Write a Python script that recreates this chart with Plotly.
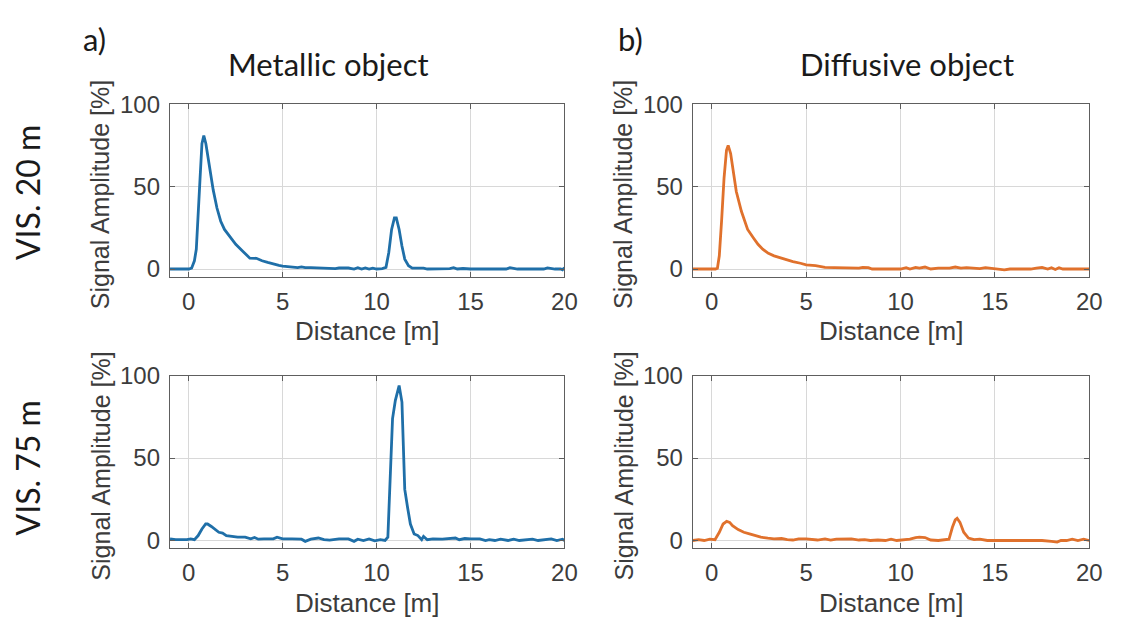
import plotly.graph_objects as go

# ---------------- data ----------------
# Metallic object, VIS. 20 m
met20_x = [-1, -0.5, 0, 0.15, 0.3, 0.4, 0.5, 0.6, 0.7, 0.8,
           0.91, 1.0, 1.17, 1.3, 1.5, 1.7, 1.9, 2.2, 2.5, 2.9,
           3.1, 3.25, 3.6, 3.9, 4.2, 4.5, 4.8, 5.0, 5.3, 5.6,
           5.8, 6.0, 6.2, 6.5, 7.0, 7.5, 7.8, 8.0, 8.5, 8.8,
           9.0, 9.2, 9.4, 9.6, 9.8, 10.0, 10.3, 10.5, 10.65, 10.8,
           10.95, 11.05, 11.2, 11.35, 11.5, 11.7, 11.9, 12.2, 12.5, 12.7,
           13.0, 13.5, 13.9, 14.1, 14.3, 14.6, 15.0, 16.0, 16.9, 17.1,
           17.5, 18.0, 18.5, 18.9, 19.1, 19.5, 19.8, 19.9, 20]
met20_y = [0, 0, 0, 0.5, 5, 12, 30, 55, 76, 81,
           76, 69, 58, 48, 37, 29, 24, 19.5, 15, 10.5,
           8.5, 6.6, 6.5, 5, 4, 3, 2.2, 1.8, 1.3, 1.2,
           0.8, 1.3, 0.8, 0.8, 0.5, 0.5, 0.2, 0.6, 0.6, 0,
           0.8, 0, 0.7, 0, 0.5, 0, 0.3, 1, 10, 24,
           31, 31, 24, 14, 6, 2, 0.5, 0.5, 0.5, 0,
           0, 0, 0.2, 0.8, 0, 0.3, 0, 0, 0, 0.8,
           0, 0, 0, 0, 0.7, 0, 0, -0.5, 0.8]

# Metallic object, VIS. 75 m
met75_x = [-1, -0.7, -0.4, -0.1, 0.1, 0.3, 0.5, 0.7, 0.9, 1.0,
           1.2, 1.4, 1.6, 1.8, 2.0, 2.3, 2.6, 3.0, 3.3, 3.5,
           3.7, 4.0, 4.5, 4.7, 5.0, 5.5, 6.0, 6.2, 6.5, 6.9,
           7.2, 7.5, 8.0, 8.5, 8.8, 9.0, 9.3, 9.6, 9.9, 10.2,
           10.45, 10.6, 10.75, 10.85, 11.0, 11.2, 11.35, 11.45, 11.5, 11.65,
           11.8, 12.0, 12.2, 12.4, 12.5, 12.7, 13.0, 13.5, 14.0, 14.2,
           14.4, 14.7, 15.0, 15.5, 15.8, 16.0, 16.3, 16.6, 17.0, 17.3,
           17.6, 18.0, 18.3, 18.6, 19.0, 19.3, 19.6, 19.9, 20]
met75_y = [1, 0.5, 0.5, 0.5, 1, 0.5, 3, 7, 10, 10,
           8.5, 6.5, 5, 4.5, 3, 2.5, 2, 2, 1, 1.8,
           0.8, 1, 1, 2, 1, 1, 0.8, -0.5, 0.8, 1.5,
           0.5, 0.2, 1, 1, -0.5, 0.8, 0, 1, -0.2, 0.5,
           0, 2, 40, 74, 85, 94, 84, 40, 31, 20,
           10, 4, 3, 0.5, 2.5, 0.5, 1, 0.8, 1, 1.5,
           0.5, 1.2, 1, 1, 0, 0.5, 0, 0.8, 0, 0.8,
           0, 0.5, 0.8, 0, 0.5, 1, 0, 0.8, 0]

# Diffusive object, VIS. 20 m
dif20_x = [-1, -0.5, 0, 0.2, 0.3, 0.4, 0.52, 0.65, 0.78, 0.87,
           1.0, 1.13, 1.3, 1.57, 1.9, 2.2, 2.45, 2.7, 3.0, 3.3,
           3.7, 4.0, 4.3, 4.7, 5.0, 5.5, 6.0, 6.5, 7.0, 7.5,
           7.8, 8.0, 8.3, 8.5, 8.8, 9.0, 9.5, 10.0, 10.3, 10.5,
           10.8, 11.0, 11.3, 11.6, 12.0, 12.3, 12.6, 12.9, 13.2, 13.5,
           13.8, 14.2, 14.5, 14.8, 15.2, 15.5, 15.8, 16.2, 16.6, 16.9,
           17.2, 17.5, 17.8, 18.0, 18.2, 18.4, 18.6, 19.0, 19.5, 20]
dif20_y = [0, 0, 0, 0, 0.5, 8, 29, 55, 72, 75,
           70, 60, 47, 35, 24, 19, 15, 12, 9.5, 8,
           6.5, 5.5, 4.5, 3.5, 2.5, 2, 1, 0.8, 0.8, 0.8,
           0.5, 1, 0.8, 0, 0, 0, 0, 0, 0.8, 0,
           1, 0.5, 1.2, 0, 0.5, 0.3, 0.5, 1.2, 0.5, 0.8,
           0.5, 0.3, 0.8, 0.3, 0, -0.5, 0, 0, 0, 0,
           0.5, 1, 0, 0.8, -0.3, 0.8, 0, 0, 0, 0]

# Diffusive object, VIS. 75 m
dif75_x = [-1, -0.7, -0.4, -0.1, 0.17, 0.4, 0.6, 0.79, 0.95, 1.1,
           1.4, 1.7, 2.0, 2.27, 2.6, 2.97, 3.3, 3.7, 4.0, 4.3,
           4.6, 5.0, 5.3, 5.6, 6.0, 6.3, 6.6, 7.0, 7.4, 7.8,
           8.1, 8.4, 8.8, 9.2, 9.5, 9.8, 10.2, 10.5, 10.8, 11.0,
           11.3, 11.6, 12.0, 12.3, 12.57, 12.75, 12.9, 13.0, 13.15, 13.35,
           13.6, 13.9, 14.2, 14.6, 15.0, 15.5, 16.0, 16.5, 17.0, 17.5,
           18.0, 18.3, 18.5, 18.8, 19.1, 19.4, 19.7, 20]
dif75_y = [0, 0.5, 0, 0.8, 0.5, 5, 10, 11.6, 11, 9,
           6.6, 5, 4, 3, 2, 1.4, 1, 1.2, 0.5, 0.3,
           1, 1, 0.5, 0.3, 1, 0.2, 0.8, 1, 1, 0.3,
           0.5, 0, 0.3, 0, 0.8, 0, 0.3, 0.8, 1.8, 2,
           1.8, 0.3, 0, 0.3, 0.8, 8, 12.5, 13.5, 11, 5,
           1.5, 0.5, 0.8, 0, 0, 0, 0, 0, 0, 0,
           -0.5, -1, 0, 0, 0.8, 0, 0.8, 0]

x_ticks = [0, 5, 10, 15, 20]
y_ticks = [0, 50, 100]
col_titles = ["Metallic object", "Diffusive object"]
panel_tags = ["a)", "b)"]
row_titles = ["VIS. 20 m", "VIS. 75 m"]

BLUE = "#1f6fa8"
ORANGE = "#e0712c"

W, H = 1123, 625

# pixel geometry of panels
col_px = [(172, 571), (701, 1102)]
row_px = [(93, 271), (373, 551)]

def dx(a, b):
    return [a / W, b / W]

def dy(top, bot):
    return [1 - bot / H, 1 - top / H]

fig = go.Figure()

panels = [
    (met20_x, met20_y, BLUE, 0, 0),
    (dif20_x, dif20_y, ORANGE, 0, 1),
    (met75_x, met75_y, BLUE, 1, 0),
    (dif75_x, dif75_y, ORANGE, 1, 1),
]

axis_font = dict(family="Liberation Sans, Arial, sans-serif", size=24, color="#3c3c3c")
title_font = dict(family="Liberation Sans, Arial, sans-serif", size=25, color="#3c3c3c")

layout = dict(
    width=W, height=H,
    margin=dict(l=0, r=0, t=0, b=0),
    paper_bgcolor="white", plot_bgcolor="white",
    showlegend=False,
)

annotations = []
for i, (xs, ys, color, r, c) in enumerate(panels):
    n = i + 1
    xa = "x" if n == 1 else f"x{n}"
    ya = "y" if n == 1 else f"y{n}"
    fig.add_trace(go.Scatter(x=xs, y=ys, mode="lines",
                             line=dict(color=color, width=2.8),
                             xaxis=xa, yaxis=ya, hoverinfo="skip"))
    common = dict(showline=True, mirror="ticks", linecolor="#5e5e5e", linewidth=1.3,
                  ticks="inside", ticklen=5, tickcolor="#5e5e5e",
                  showgrid=True, gridcolor="#d8d8d8", gridwidth=1,
                  zeroline=False, tickfont=axis_font)
    xkey = "xaxis" if n == 1 else f"xaxis{n}"
    ykey = "yaxis" if n == 1 else f"yaxis{n}"
    layout[xkey] = dict(common, domain=dx(*col_px[c]), range=[-1, 20],
                        tickvals=x_ticks, anchor=ya, ticklabelstandoff=3)
    layout[ykey] = dict(common, domain=dy(*row_px[r]), range=[-4.7, 100],
                        tickvals=y_ticks, anchor=xa, ticklabelstandoff=4)
    x0, x1 = col_px[c]
    t, b = row_px[r]
    annotations.append(dict(text="Distance [m]", xref="paper", yref="paper",
                            x=(x0 + x1) / 2 / W, y=1 - (b + 56) / H,
                            xanchor="center", yanchor="middle", showarrow=False,
                            font=dict(title_font, size=26)))
    annotations.append(dict(text="Signal Amplitude [%]", xref="paper", yref="paper",
                            x=(x0 - 70) / W, y=1 - ((t + b) / 2 + 4) / H,
                            xanchor="center", yanchor="middle", showarrow=False,
                            textangle=-90, font=title_font))

head_font = dict(family="Lato, Open Sans, sans-serif", size=31, color="#1a1a1a")
col_centers = [332, 918]
tag_x = [96, 638]
for c in range(2):
    annotations.append(dict(text=col_titles[c], xref="paper", yref="paper",
                            x=col_centers[c] / W, y=1 - 52 / H,
                            xanchor="center", yanchor="middle", showarrow=False,
                            font=head_font))
    annotations.append(dict(text=panel_tags[c], xref="paper", yref="paper",
                            x=tag_x[c] / W, y=1 - 26 / H,
                            xanchor="center", yanchor="middle", showarrow=False,
                            font=head_font))
row_centers = [184, 468]
for r in range(2):
    annotations.append(dict(text=row_titles[r], xref="paper", yref="paper",
                            x=28 / W, y=1 - row_centers[r] / H,
                            xanchor="center", yanchor="middle", showarrow=False,
                            textangle=-90, font=dict(head_font, size=32)))

layout["annotations"] = annotations
fig.update_layout(**layout)
fig.write_html("out.html")
